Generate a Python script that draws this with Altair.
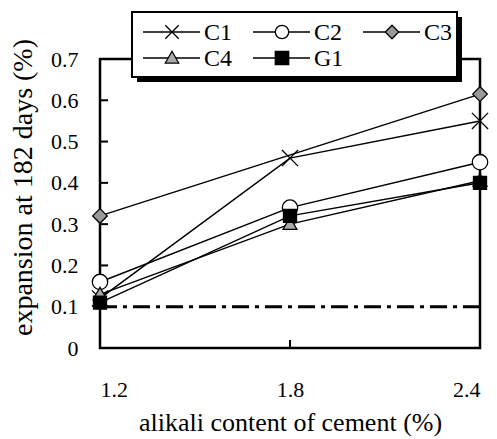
import altair as alt
import pandas as pd

# Alkali content of cement (%) and expansion at 182 days (%) per cement
alkali = [1.2, 1.8, 2.4]
series_names = ["C1", "C2", "C3", "C4", "G1"]
c1 = [0.12, 0.46, 0.55]
c2 = [0.16, 0.34, 0.45]
c3 = [0.32, None, 0.615]
c4 = [0.13, 0.30, 0.405]
g1 = [0.11, 0.32, 0.40]
limit = [0.1]
y_ticks = [0, 0.1, 0.2, 0.3, 0.4, 0.5, 0.6, 0.7]

W, H = 380, 289
FONT = "Liberation Serif"

rows = []
for name, vals in zip(series_names, [c1, c2, c3, c4, g1]):
    for x, v in zip(alkali, vals):
        if v is not None:
            rows.append({"alkali": x, "expansion": v, "cement": name})
df = pd.DataFrame(rows)

shape_paths = {
    "C1": "M-1,-1L1,1M1,-1L-1,1",
    "C2": "circle",
    "C3": "diamond",
    "C4": "M0,-1L1,0.75L-1,0.75Z",
    "G1": "square",
}
fills = {"C1": "white", "C2": "white", "C3": "#999999", "C4": "#aaaaaa", "G1": "black"}
sizes = {"C1": 260, "C2": 170, "C3": 270, "C4": 240, "G1": 170}

shape_scale = alt.Scale(domain=series_names, range=[shape_paths[n] for n in series_names])
fill_scale = alt.Scale(domain=series_names, range=[fills[n] for n in series_names])
size_scale = alt.Scale(domain=series_names, range=[sizes[n] for n in series_names])

xs = alt.Scale(domain=[1.2, 2.4], nice=False, zero=False)
ys = alt.Scale(domain=[0, 0.7], nice=False)

base = alt.Chart(df)

lines = base.mark_line(color="black", strokeWidth=1.5).encode(
    x=alt.X("alkali:Q", scale=xs,
            axis=alt.Axis(values=alkali, format=".1f", title="alikali content of cement (%)",
                          titleY=82, titleBaseline="alphabetic", titleFontSize=26,
                          labelPadding=31)),
    y=alt.Y("expansion:Q", scale=ys,
            axis=alt.Axis(values=y_ticks, format=".1~f", title="expansion at 182 days (%)",
                          titleX=-69, titleY=128, titleBaseline="alphabetic", titleFontSize=28,
                          labelPadding=22)),
    detail="cement:N",
    order="alkali:Q",
)

points = base.mark_point(filled=False, stroke="black", strokeWidth=1.3, opacity=1).encode(
    x=alt.X("alkali:Q", scale=xs),
    y=alt.Y("expansion:Q", scale=ys),
    shape=alt.Shape("cement:N", scale=shape_scale, legend=None),
    fill=alt.Fill("cement:N", scale=fill_scale, legend=None),
    size=alt.Size("cement:N", scale=size_scale, legend=None),
)

# dash-dot reference line
ref = alt.Chart(pd.DataFrame({"limit": limit})).mark_rule(
    color="black", strokeWidth=3, strokeDash=[17, 6, 4, 6]
).encode(y=alt.Y("limit:Q", scale=ys), x=alt.value(0), x2=alt.value(W))

# inward tick marks
ytick_df = pd.DataFrame({"v": y_ticks[1:-1]})
yticks = alt.Chart(ytick_df).mark_rule(color="black", strokeWidth=2).encode(
    y=alt.Y("v:Q", scale=ys), x=alt.value(0), x2=alt.value(8))
xtick_df = pd.DataFrame({"v": alkali[1:2]})
xticks = alt.Chart(xtick_df).mark_rule(color="black", strokeWidth=2).encode(
    x=alt.X("v:Q", scale=xs), y=alt.value(H), y2=alt.value(H - 8))

# plot frame
frame = alt.Chart(pd.DataFrame({"a": [0]})).mark_rect(
    fill=None, stroke="black", strokeWidth=2.5
).encode(x=alt.value(0), x2=alt.value(W), y=alt.value(0), y2=alt.value(H))

# legend box with drop shadow
box_x0, box_x1, box_y0, box_y1 = 32, 357, -47, 18
shadow = alt.Chart(pd.DataFrame({"a": [0]})).mark_rect(fill="black").encode(
    x=alt.value(box_x0 + 5), x2=alt.value(box_x1 + 5),
    y=alt.value(box_y0 + 5), y2=alt.value(box_y1 + 5))
box = alt.Chart(pd.DataFrame({"a": [0]})).mark_rect(
    fill="white", stroke="black", strokeWidth=2).encode(
    x=alt.value(box_x0), x2=alt.value(box_x1),
    y=alt.value(box_y0), y2=alt.value(box_y1))

leg_rows = []
for i, name in enumerate(series_names):
    col, row = i % 3, i // 3
    x0 = 43 + 110 * col
    yy = -27 + 26 * row
    leg_rows.append({"cement": name, "x0": x0, "x1": x0 + 57, "xm": x0 + 29,
                     "xt": x0 + 61, "ly": yy})
leg = pd.DataFrame(leg_rows)
leg_base = alt.Chart(leg)
leg_lines = leg_base.mark_rule(color="black", strokeWidth=1.5).encode(
    x=alt.X("x0:Q", scale=None), x2="x1:Q", y=alt.Y("ly:Q", scale=None))
leg_pts = leg_base.mark_point(filled=False, stroke="black", strokeWidth=1.3, opacity=1).encode(
    x=alt.X("xm:Q", scale=None), y=alt.Y("ly:Q", scale=None),
    shape=alt.Shape("cement:N", scale=shape_scale, legend=None),
    fill=alt.Fill("cement:N", scale=fill_scale, legend=None),
    size=alt.value(180),
)
leg_text = leg_base.mark_text(align="left", baseline="middle", font=FONT, fontSize=24,
                              color="black", dy=1).encode(
    x=alt.X("xt:Q", scale=None), y=alt.Y("ly:Q", scale=None), text="cement:N")

chart = alt.layer(
    frame, yticks, xticks, ref, lines, points, shadow, box, leg_lines, leg_pts, leg_text
).resolve_scale(shape="shared", fill="shared").properties(
    width=W, height=H,
    autosize=alt.AutoSizeParams(type="none"),
    padding={"left": 100, "top": 59, "right": 17, "bottom": 91},
).configure_view(stroke=None).configure_axis(
    domain=False, ticks=False, grid=False,
    labelFont=FONT, labelFontSize=22, labelColor="black",
    titleFont=FONT, titleColor="black", titleFontWeight="normal",
)

chart.save("out.html", embed_options={"renderer": "svg", "actions": False})
